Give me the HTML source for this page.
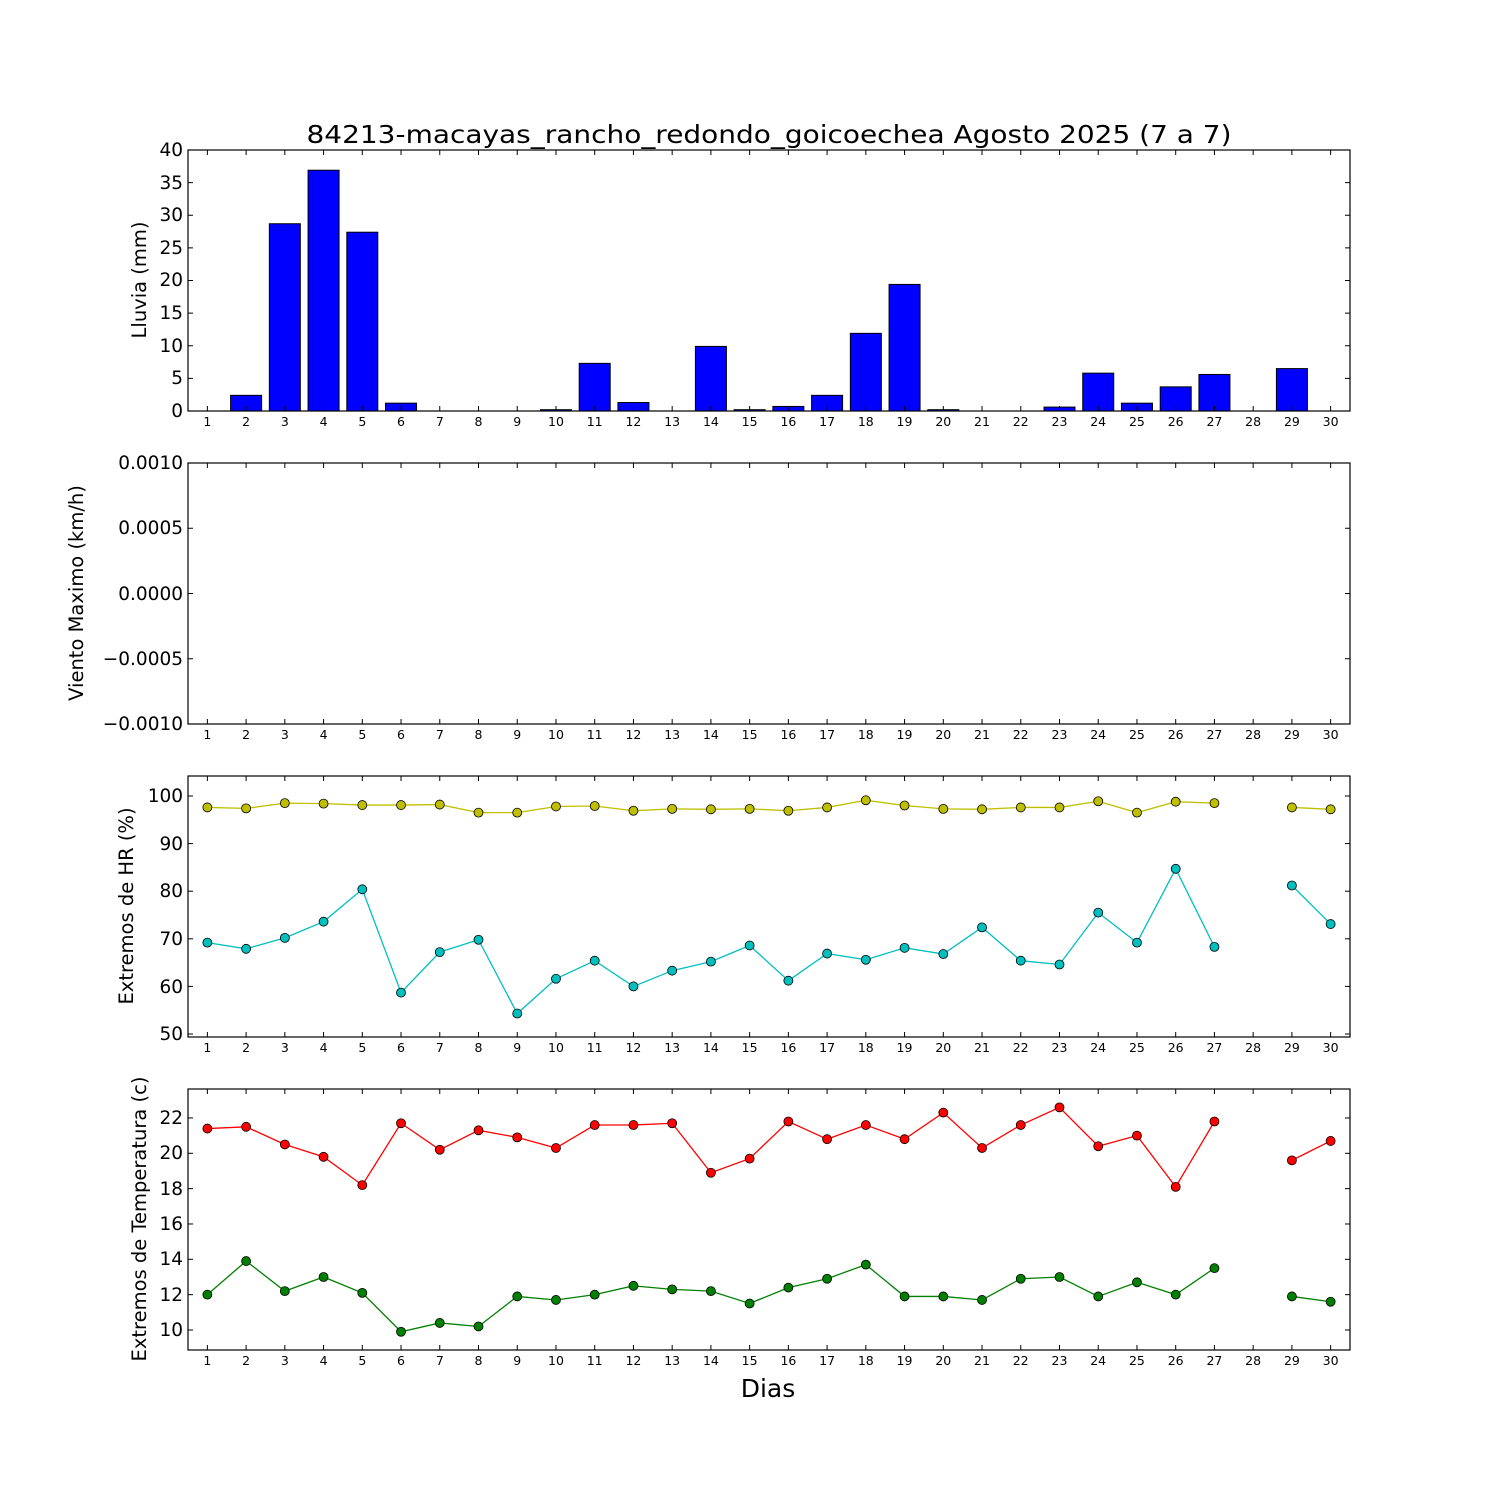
<!DOCTYPE html>
<html><head><meta charset="utf-8"><style>
html,body{margin:0;padding:0;background:#fff;}
svg{display:block;font-family:"DejaVu Sans","Liberation Sans",sans-serif;}
.xt{font-size:12.5px;text-anchor:middle;}
.yt{font-size:18.5px;text-anchor:end;}
.yl{font-size:19.5px;text-anchor:middle;}
</style></head><body>
<svg id="s" width="1500" height="1500" viewBox="0 0 1500 1500" xmlns="http://www.w3.org/2000/svg">
<rect width="1500" height="1500" fill="#fff"/>
<g id="plots"></g>
<text x="769" y="143" font-size="25" text-anchor="middle" textLength="925" lengthAdjust="spacingAndGlyphs">84213-macayas_rancho_redondo_goicoechea Agosto 2025  (7 a 7)</text>
<text x="768" y="1397" font-size="25" text-anchor="middle">Dias</text>
<text class="yl" transform="translate(146,280) rotate(-90)">Lluvia (mm)</text>
<text class="yl" transform="translate(83,593) rotate(-90)">Viento Maximo (km/h)</text>
<text class="yl" transform="translate(133,906) rotate(-90)">Extremos de HR (%)</text>
<text class="yl" transform="translate(146,1219) rotate(-90)">Extremos de Temperatura (c)</text>
<g class="yt">
<text x="183" y="417">0</text><text x="183" y="384">5</text><text x="183" y="352">10</text><text x="183" y="319">15</text><text x="183" y="286">20</text><text x="183" y="254">25</text><text x="183" y="221">30</text><text x="183" y="189">35</text><text x="183" y="156">40</text>
<text x="183" y="730">−0.0010</text><text x="183" y="665">−0.0005</text><text x="183" y="600">0.0000</text><text x="183" y="534">0.0005</text><text x="183" y="469">0.0010</text>
<text x="183" y="1040">50</text><text x="183" y="993">60</text><text x="183" y="945">70</text><text x="183" y="897">80</text><text x="183" y="850">90</text><text x="183" y="802">100</text>
<text x="183" y="1336">10</text><text x="183" y="1301">12</text><text x="183" y="1265">14</text><text x="183" y="1230">16</text><text x="183" y="1195">18</text><text x="183" y="1159">20</text><text x="183" y="1124">22</text>
</g>
<g class="xt">
<text y="426"><tspan x="207.4">1</tspan><tspan x="246.1">2</tspan><tspan x="284.8">3</tspan><tspan x="323.6">4</tspan><tspan x="362.3">5</tspan><tspan x="401">6</tspan><tspan x="439.8">7</tspan><tspan x="478.5">8</tspan><tspan x="517.2">9</tspan><tspan x="556">10</tspan><tspan x="594.7">11</tspan><tspan x="633.4">12</tspan><tspan x="672.2">13</tspan><tspan x="710.9">14</tspan><tspan x="749.6">15</tspan><tspan x="788.4">16</tspan><tspan x="827.1">17</tspan><tspan x="865.8">18</tspan><tspan x="904.5">19</tspan><tspan x="943.3">20</tspan><tspan x="982">21</tspan><tspan x="1020.7">22</tspan><tspan x="1059.5">23</tspan><tspan x="1098.2">24</tspan><tspan x="1136.9">25</tspan><tspan x="1175.7">26</tspan><tspan x="1214.4">27</tspan><tspan x="1253.1">28</tspan><tspan x="1291.9">29</tspan><tspan x="1330.6">30</tspan></text>
<text y="739"><tspan x="207.4">1</tspan><tspan x="246.1">2</tspan><tspan x="284.8">3</tspan><tspan x="323.6">4</tspan><tspan x="362.3">5</tspan><tspan x="401">6</tspan><tspan x="439.8">7</tspan><tspan x="478.5">8</tspan><tspan x="517.2">9</tspan><tspan x="556">10</tspan><tspan x="594.7">11</tspan><tspan x="633.4">12</tspan><tspan x="672.2">13</tspan><tspan x="710.9">14</tspan><tspan x="749.6">15</tspan><tspan x="788.4">16</tspan><tspan x="827.1">17</tspan><tspan x="865.8">18</tspan><tspan x="904.5">19</tspan><tspan x="943.3">20</tspan><tspan x="982">21</tspan><tspan x="1020.7">22</tspan><tspan x="1059.5">23</tspan><tspan x="1098.2">24</tspan><tspan x="1136.9">25</tspan><tspan x="1175.7">26</tspan><tspan x="1214.4">27</tspan><tspan x="1253.1">28</tspan><tspan x="1291.9">29</tspan><tspan x="1330.6">30</tspan></text>
<text y="1052"><tspan x="207.4">1</tspan><tspan x="246.1">2</tspan><tspan x="284.8">3</tspan><tspan x="323.6">4</tspan><tspan x="362.3">5</tspan><tspan x="401">6</tspan><tspan x="439.8">7</tspan><tspan x="478.5">8</tspan><tspan x="517.2">9</tspan><tspan x="556">10</tspan><tspan x="594.7">11</tspan><tspan x="633.4">12</tspan><tspan x="672.2">13</tspan><tspan x="710.9">14</tspan><tspan x="749.6">15</tspan><tspan x="788.4">16</tspan><tspan x="827.1">17</tspan><tspan x="865.8">18</tspan><tspan x="904.5">19</tspan><tspan x="943.3">20</tspan><tspan x="982">21</tspan><tspan x="1020.7">22</tspan><tspan x="1059.5">23</tspan><tspan x="1098.2">24</tspan><tspan x="1136.9">25</tspan><tspan x="1175.7">26</tspan><tspan x="1214.4">27</tspan><tspan x="1253.1">28</tspan><tspan x="1291.9">29</tspan><tspan x="1330.6">30</tspan></text>
<text y="1365"><tspan x="207.4">1</tspan><tspan x="246.1">2</tspan><tspan x="284.8">3</tspan><tspan x="323.6">4</tspan><tspan x="362.3">5</tspan><tspan x="401">6</tspan><tspan x="439.8">7</tspan><tspan x="478.5">8</tspan><tspan x="517.2">9</tspan><tspan x="556">10</tspan><tspan x="594.7">11</tspan><tspan x="633.4">12</tspan><tspan x="672.2">13</tspan><tspan x="710.9">14</tspan><tspan x="749.6">15</tspan><tspan x="788.4">16</tspan><tspan x="827.1">17</tspan><tspan x="865.8">18</tspan><tspan x="904.5">19</tspan><tspan x="943.3">20</tspan><tspan x="982">21</tspan><tspan x="1020.7">22</tspan><tspan x="1059.5">23</tspan><tspan x="1098.2">24</tspan><tspan x="1136.9">25</tspan><tspan x="1175.7">26</tspan><tspan x="1214.4">27</tspan><tspan x="1253.1">28</tspan><tspan x="1291.9">29</tspan><tspan x="1330.6">30</tspan></text>
</g>
</svg>
<script>
(function(){
var NS="http://www.w3.org/2000/svg",g=document.getElementById("plots");
function el(t,a){var e=document.createElementNS(NS,t);for(var k in a)e.setAttribute(k,a[k]);g.appendChild(e);return e;}
var L=188,R=1350;
function X(d){return L+(d-0.5)*(R-L)/30;}
var panels=[[150,411],[463,724],[776,1037],[1089,1350]];
var rain=[0,2.4,28.7,36.9,27.4,1.2,0,0,0,0.2,7.3,1.3,0,9.9,0.2,0.7,2.4,11.9,19.4,0.2,0,0,0.6,5.8,1.2,3.7,5.6,0,6.5,0];
var hmax=[97.6,97.4,98.5,98.4,98.1,98.1,98.2,96.5,96.5,97.8,97.9,96.9,97.3,97.2,97.3,96.9,97.6,99.1,98.0,97.3,97.2,97.6,97.6,98.9,96.5,98.8,98.5,null,97.6,97.2];
var hmin=[69.2,67.9,70.2,73.6,80.4,58.7,67.2,69.8,54.3,61.6,65.4,60.0,63.3,65.2,68.6,61.2,66.9,65.6,68.1,66.8,72.4,65.4,64.6,75.5,69.2,84.7,68.3,null,81.2,73.1];
var tmax=[21.4,21.5,20.5,19.8,18.2,21.7,20.2,21.3,20.9,20.3,21.6,21.6,21.7,18.9,19.7,21.8,20.8,21.6,20.8,22.3,20.3,21.6,22.6,20.4,21.0,18.1,21.8,null,19.6,20.7];
var tmin=[12.0,13.9,12.2,13.0,12.1,9.9,10.4,10.2,11.9,11.7,12.0,12.5,12.3,12.2,11.5,12.4,12.9,13.7,11.9,11.9,11.7,12.9,13.0,11.9,12.7,12.0,13.5,null,11.9,11.6];
rain.forEach(function(v,i){var x=X(i+1)-15.5,h=v*6.525;el("rect",{x:x,y:411-h,width:31,height:h,fill:"#0000ff",stroke:"#000","stroke-width":1});});
function series(arr,Y,col){
  var segs=[],cur=[];
  arr.forEach(function(v,i){if(v===null){if(cur.length)segs.push(cur);cur=[];}else cur.push(X(i+1)+","+Y(v));});
  if(cur.length)segs.push(cur);
  segs.forEach(function(s){el("polyline",{points:s.join(" "),fill:"none",stroke:col,"stroke-width":1.3});});
  arr.forEach(function(v,i){if(v!==null)el("circle",{cx:X(i+1),cy:Y(v),r:4.5,fill:col,stroke:"#000","stroke-width":0.8});});
}
var YH=function(v){return 1034-(v-50)*4.76;};
var YT=function(v){return 1330-(v-10)*17.67;};
series(hmax,YH,"#bfbf00");series(hmin,YH,"#00bfbf");
series(tmax,YT,"#ff0000");series(tmin,YT,"#008000");
var yt=[[0,5,10,15,20,25,30,35,40].map(function(v){return 411-v*6.525;}),
[724,658.75,593.5,528.25,463],
[50,60,70,80,90,100].map(YH),
[10,12,14,16,18,20,22].map(YT)];
panels.forEach(function(p,k){
  for(var d=1;d<=30;d++){var x=X(d);el("line",{x1:x,y1:p[1],x2:x,y2:p[1]-5,stroke:"#000","stroke-width":1});el("line",{x1:x,y1:p[0],x2:x,y2:p[0]+5,stroke:"#000","stroke-width":1});}
  yt[k].forEach(function(y){el("line",{x1:L,y1:y,x2:L+5,y2:y,stroke:"#000","stroke-width":1});el("line",{x1:R,y1:y,x2:R-5,y2:y,stroke:"#000","stroke-width":1});});
  el("rect",{x:L,y:p[0],width:R-L,height:p[1]-p[0],fill:"none",stroke:"#000","stroke-width":1.2});
});
})();
</script>
</body></html>
